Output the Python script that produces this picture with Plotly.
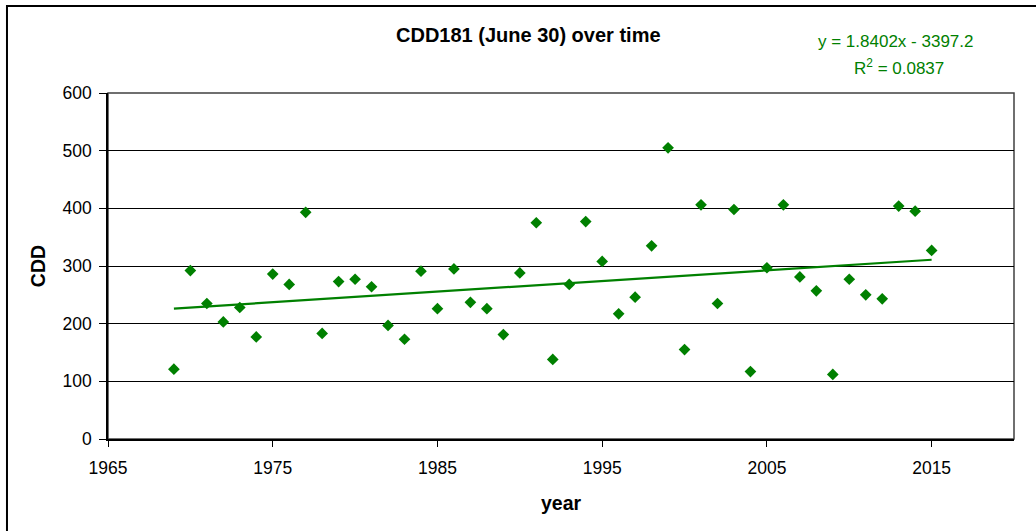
import plotly.graph_objects as go

# CDD181 (cooling degree days to June 30) by year
years = list(range(1969, 2016))
cdd = [121, 292, 235, 203, 228, 177, 286, 268, 393, 183,
       273, 277, 264, 197, 173, 291, 226, 295, 237, 226,
       181, 288, 375, 138, 268, 377, 308, 217, 246, 335,
       505, 155, 406, 235, 398, 117, 297, 406, 281, 257,
       112, 277, 250, 243, 404, 395, 327]

# Linear trend as reported on the chart
slope = 1.8402
intercept = -3397.2
r_squared = 0.0837

x_ticks = [1965, 1975, 1985, 1995, 2005, 2015]
y_ticks = [0, 100, 200, 300, 400, 500, 600]

green = "#008000"
font_family = "Liberation Sans, Arial, sans-serif"

trend_x = [years[0], years[-1]]
trend_y = [slope * x + intercept for x in trend_x]

fig = go.Figure()
fig.add_trace(go.Scatter(
    x=trend_x, y=trend_y, mode="lines",
    line=dict(color=green, width=2.2),
    hoverinfo="skip", showlegend=False,
))
fig.add_trace(go.Scatter(
    x=years, y=cdd, mode="markers",
    marker=dict(symbol="diamond", size=9, color=green, line=dict(width=0)),
    showlegend=False,
))

fig.update_layout(
    width=1036, height=531,
    margin=dict(l=108, r=22, t=93, b=92),
    paper_bgcolor="white", plot_bgcolor="white",
    font=dict(family=font_family, color="black", size=17.5),
    xaxis=dict(
        range=[1965, 2020], tickvals=x_ticks, ticktext=[str(v) for v in x_ticks],
        showgrid=False, zeroline=False,
        showline=True, linecolor="black", linewidth=1.5,
        ticks="outside", ticklen=6, tickcolor="black", tickwidth=1,
        ticklabelstandoff=6,
        tickfont=dict(size=17.5),
        title=dict(text="<b>year</b>", font=dict(size=19.5), standoff=20),
    ),
    yaxis=dict(
        range=[0, 600], tickvals=y_ticks,
        showgrid=True, gridcolor="black", gridwidth=1,
        zeroline=False,
        showline=True, linecolor="black", linewidth=1.5,
        ticks="outside", ticklen=7, tickcolor="black", tickwidth=1,
        ticklabelstandoff=4,
        tickfont=dict(size=17.5),
        title=dict(text="<b>CDD</b>", font=dict(size=19.5), standoff=12),
    ),
    shapes=[
        # plot area border
        dict(type="rect", xref="paper", yref="paper", x0=0, y0=0, x1=1, y1=1,
             line=dict(color="#404040", width=1.5), layer="below"),
        # outer chart frame
        dict(type="rect", xref="paper", yref="paper",
             x0=-0.1115, y0=-0.30, x1=1.03, y1=1.2515,
             line=dict(color="black", width=2)),
    ],
    annotations=[
        dict(text="<b>CDD181 (June 30) over time</b>", xref="paper", yref="paper",
             x=(528 - 108) / 906, y=(439 - 35.5) / 346, xanchor="center", yanchor="middle",
             showarrow=False, font=dict(size=20, color="black")),
        dict(text=f"y = {slope}x - {abs(intercept)}", xref="paper", yref="paper",
             x=(895 - 108) / 906, y=(439 - 41.5) / 346, xanchor="center", yanchor="middle",
             showarrow=False, font=dict(size=17, color=green)),
        dict(text=f"R<sup>2</sup> = {r_squared}", xref="paper", yref="paper",
             x=(899 - 108) / 906, y=(439 - 66.5) / 346, xanchor="center", yanchor="middle",
             showarrow=False, font=dict(size=17, color=green)),
    ],
)

fig.write_html("out.html")
